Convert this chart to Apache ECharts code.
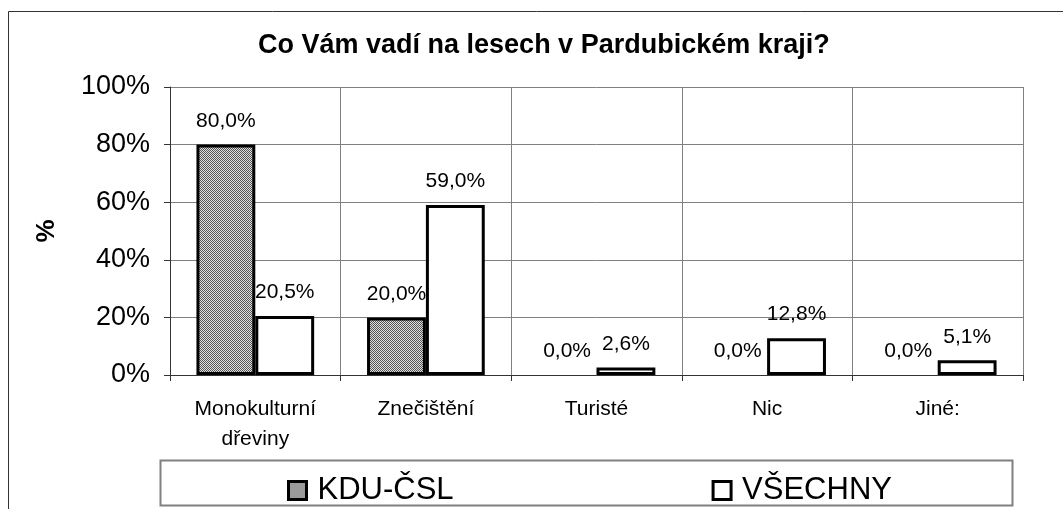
<!DOCTYPE html>
<html>
<head>
<meta charset="utf-8">
<script src="https://cdn.jsdelivr.net/npm/echarts@6/dist/echarts.min.js"></script>
<style>
  html, body { margin: 0; padding: 0; background: #fff; }
  #main { width: 1063px; height: 509px; }
</style>
</head>
<body>
<div id="main"></div>
<script>
var categories = ['Monokulturní\ndřeviny', 'Znečištění', 'Turisté', 'Nic', 'Jiné:'];
var kduCsl = [80.0, 20.0, 0.0, 0.0, 0.0];
var vsechny = [20.5, 59.0, 2.6, 12.8, 5.1];
var yTicks = [0, 20, 40, 60, 80, 100];

// dithered grey fill like the original
var makePattern = function() {
	var c = document.createElement('canvas');
	c.width = 2; c.height = 2;
	var ctx = c.getContext('2d');
	ctx.fillStyle = '#e0e0e0';
	ctx.fillRect(0, 0, 2, 2);
	ctx.fillStyle = '#555555';
	ctx.fillRect(0, 0, 1, 1);
	ctx.fillRect(1, 1, 1, 1);
	return c;
};
var pattern = { image: makePattern(), repeat: 'repeat' };

var fmt = function(v) {
	return v.toFixed(1).replace('.', ',') + '%';
};

var toData = function(arr) {
	return arr.map(function(v) {
		return v === 0 ? { value: v, itemStyle: { borderWidth: 0 } } : v;
	});
};

var font = 'Arial, "Liberation Sans", sans-serif';

var chart = echarts.init(document.getElementById('main'));

var option = {
	backgroundColor: '#fff',
	animation: false,
	textStyle: { fontFamily: font },
	title: {
		text: 'Co Vám vadí na lesech v Pardubickém kraji?',
		left: 258,
		top: 32,
		padding: 0,
		textStyle: { fontFamily: font, fontSize: 27, fontWeight: 'bold', color: '#000' }
	},
	graphic: [
		{
			type: 'rect', silent: true, z: -1,
			shape: { x: 8.5, y: 11.5, width: 1080, height: 520 },
			style: { fill: 'none', stroke: '#333', lineWidth: 1 }
		},
		{
			type: 'rect', silent: true, z: -1,
			shape: { x: 160.5, y: 460.5, width: 852, height: 45 },
			style: { fill: '#fff', stroke: '#808080', lineWidth: 2 }
		}
	],
	legend: {
		left: 287,
		top: 475,
		itemWidth: 18,
		itemHeight: 18,
		itemGap: 258,
		icon: 'rect',
		padding: 0,
		itemStyle: { borderColor: '#000', borderWidth: 3 },
		textStyle: { fontFamily: font, fontSize: 31, color: '#000', padding: [0, 0, 0, 6] },
		data: ['KDU-ČSL', 'VŠECHNY']
	},
	grid: {
		left: 170,
		right: 40,
		top: 87,
		bottom: 134,
		containLabel: false
	},
	xAxis: {
		type: 'category',
		data: categories,
		axisLine: { lineStyle: { color: '#333', width: 1 } },
		axisTick: { show: true, length: 6, lineStyle: { color: '#333' } },
		axisLabel: { fontFamily: font, fontSize: 21, color: '#000', margin: 19, lineHeight: 30 },
		splitLine: { show: true, lineStyle: { color: '#808080', width: 1 } }
	},
	yAxis: {
		type: 'value',
		min: yTicks[0],
		max: yTicks[yTicks.length - 1],
		interval: 20,
		name: '%',
		nameLocation: 'middle',
		nameGap: 110,
		nameRotate: 90,
		nameTextStyle: { fontFamily: font, fontSize: 26, fontWeight: 'bold', color: '#000' },
		axisLine: { show: true, lineStyle: { color: '#333', width: 1 } },
		axisTick: { show: true, length: 6, lineStyle: { color: '#333' } },
		axisLabel: { fontFamily: font, fontSize: 27, color: '#000', margin: 20, formatter: '{value}%' },
		splitLine: { show: true, lineStyle: { color: '#808080', width: 1 } }
	},
	series: [
		{
			name: 'KDU-ČSL',
			type: 'bar',
			data: toData(kduCsl),
			barGap: '0%',
			barCategoryGap: '31%',
			itemStyle: { color: pattern, borderColor: '#000', borderWidth: 3 },
			label: {
				show: true, position: 'top', distance: 13,
				fontFamily: font, fontSize: 21, color: '#000',
				formatter: function(p) { return fmt(p.value); }
			}
		},
		{
			name: 'VŠECHNY',
			type: 'bar',
			data: toData(vsechny),
			barGap: '0%',
			barCategoryGap: '31%',
			itemStyle: { color: '#fff', borderColor: '#000', borderWidth: 3 },
			label: {
				show: true, position: 'top', distance: 13,
				fontFamily: font, fontSize: 21, color: '#000',
				formatter: function(p) { return fmt(p.value); }
			}
		}
	]
};

chart.setOption(option);
</script>
</body>
</html>
